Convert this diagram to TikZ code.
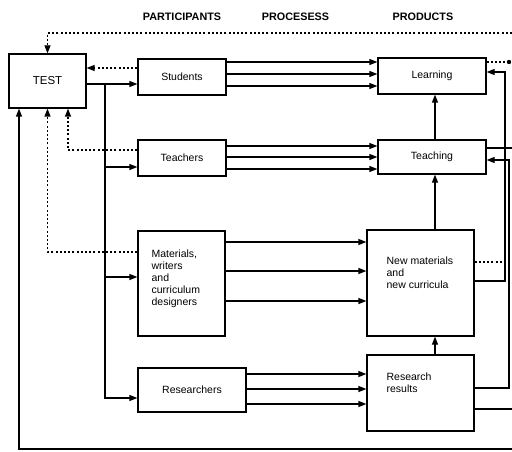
\documentclass[tikz,border=0pt]{standalone}
\usepackage{fontspec}
\setmainfont{Liberation Sans}
\usetikzlibrary{arrows.meta}
\begin{document}
\begin{tikzpicture}[x=1pt,y=-1pt, line width=1.25pt,
 box/.style={draw, rectangle, inner sep=0pt, font=\fontsize{10.5}{12}\selectfont},
 arr/.style={-{Triangle[length=8pt,width=6pt]}},
 dot/.style={dash pattern=on 2pt off 2.2pt},
 hdr/.style={font=\fontsize{10.8}{12}\selectfont\bfseries},
 txt/.style={font=\fontsize{10.5}{12}\selectfont, align=left, inner sep=0pt, anchor=north west}]
\useasboundingbox[fill=white] (0,0) rectangle (512,452);
% headers
\node[hdr] (h1) at (182,17) {PARTICIPANTS};
\node[hdr] (h2) at (295.5,17) {PROCESESS};
\node[hdr] (h3) at (423,17) {PRODUCTS};
% boxes
\node[box, minimum width=77pt, minimum height=54pt, font=\fontsize{11.5}{12}\selectfont] (test) at (47.5,81) {TEST};
\node[box, minimum width=88pt, minimum height=36pt] (students) at (182,77) {Students};
\node[box, minimum width=88pt, minimum height=36pt] (teachers) at (182,158) {Teachers};
\node[box, minimum width=87pt, minimum height=105pt] (materials) at (181.5,283.5) {};
\node[txt] (mattxt) at (151,249.5) {Materials,\\writers\\and\\curriculum\\designers};
\node[box, minimum width=108pt, minimum height=44pt] (researchers) at (192,390) {Researchers};
\node[box, minimum width=108pt, minimum height=36pt] (learning) at (432,76) {Learning};
\node[box, minimum width=108pt, minimum height=34pt] (teaching) at (432,157) {Teaching};
\node[box, minimum width=107pt, minimum height=106pt] (newmat) at (420.5,283) {};
\node[txt] (newtxt) at (386,256) {New materials\\and\\new curricula};
\node[box, minimum width=107pt, minimum height=76pt] (resres) at (420.5,393) {};
\node[txt] (restxt) at (386,372) {Research\\results};
% coordinates
\coordinate (topr) at (512,33);
\coordinate (botr) at (512,449);
\coordinate (bus) at (105,84);
\coordinate (vx) at (435,0);
\coordinate (r1) at (505,0);
\coordinate (r2) at (509,0);
% feedback to TEST
\draw[dot, arr] (topr) -- (topr -| test.north) -- (test.north);
\draw[dot, arr] (students.west |- 0,68) -- (test.east |- 0,68);
\draw[dot, arr] (teachers.west |- 0,150) -| ([xshift=20.5pt]test.south);
\draw[dot, arr] (materials.west |- 0,252) -| (test.south);
\draw[arr] (botr) -| ([xshift=-28.5pt]test.south);
% TEST to participants
\draw[arr] (test.east |- bus) -- (students.west |- bus);
\draw[arr] (bus) |- (researchers.west |- 0,398);
\draw[arr] (bus |- 0,167) -- (teachers.west |- 0,167);
\draw[arr] (bus |- 0,277) -- (materials.west |- 0,277);
% processes
\foreach \y in {62,74,86} \draw[arr] (students.east |- 0,\y) -- (learning.west |- 0,\y);
\foreach \y in {146,157,169} \draw[arr] (teachers.east |- 0,\y) -- (teaching.west |- 0,\y);
\foreach \y in {242,271,301} \draw[arr] (materials.east |- 0,\y) -- (newmat.west |- 0,\y);
\foreach \y in {374,389,404} \draw[arr] (researchers.east |- 0,\y) -- (resres.west |- 0,\y);
% product chain
\draw[arr] (vx |- teaching.north) -- (vx |- learning.south);
\draw[arr] (vx |- newmat.north) -- (vx |- teaching.south);
\draw[arr] (vx |- resres.north) -- (vx |- newmat.south);
% right side
\draw[arr] (newmat.east |- 0,281) -- (r1 |- 0,281) -- (r1 |- 0,72) -- (learning.east |- 0,72);
\draw[arr] (resres.east |- 0,388) -- (r2 |- 0,388) -- (r2 |- 0,160) -- (teaching.east |- 0,160);
\draw (teaching.east |- 0,148) -- (512,148);
\draw (resres.east |- 0,409) -- (512,409);
\draw[dot] (newmat.east |- 0,262) -- (512,262);
\draw[dot] (learning.east |- 0,62) -- (r2 |- 0,62);
\fill (r2 |- 0,62) circle (2.2pt);
\end{tikzpicture}
\end{document}
